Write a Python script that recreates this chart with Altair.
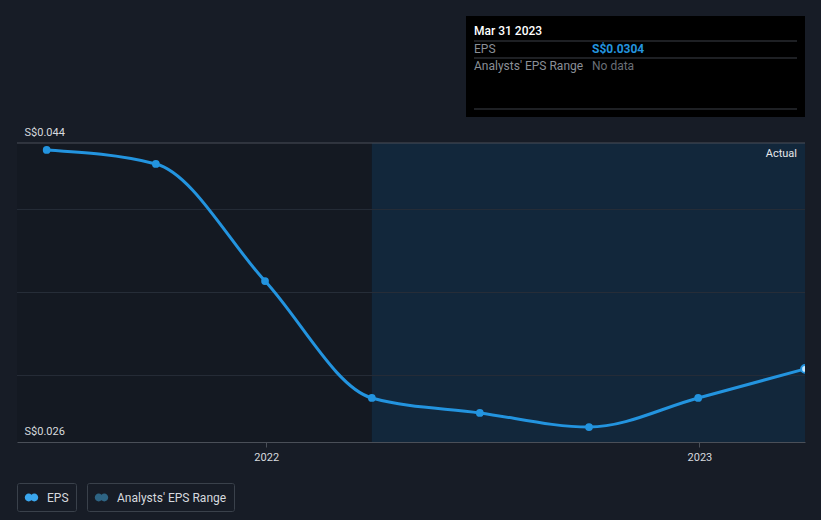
import altair as alt
import pandas as pd

# ---- data ----
dates = ["2021-06-30", "2021-09-30", "2021-12-31", "2022-03-31",
         "2022-06-30", "2022-09-30", "2022-12-31", "2023-03-31"]
eps = [0.04358, 0.04274, 0.03569, 0.02865, 0.02775, 0.02690, 0.02865, 0.0304]
grid_vals = [0.030, 0.035, 0.040]
y_labels = [0.026, 0.044]
x_ticks = [2022, 2023]
x_domain = ["2021-06-05", "2023-03-31"]
region_start = ["2021-06-05", "2022-03-31"]
region_end = ["2022-03-31", "2023-03-31"]
region_name = ["past", "Actual"]
tip_title = "Mar 31 2023"
tip_rows = ["EPS", "Analysts' EPS Range"]
tip_vals = ["S$0.0304", "No data"]

BG = "#171c26"
FONT = "Roboto"
W, H = 788, 299
TWO_DOTS = ("M-0.95,0 a0.55,0.55 0 1,0 1.1,0 a0.55,0.55 0 1,0 -1.1,0 Z "
            "M-0.15,0 a0.55,0.55 0 1,0 1.1,0 a0.55,0.55 0 1,0 -1.1,0 Z")

df = pd.DataFrame({"date": dates, "eps": eps, "series": ["EPS"] * len(eps)})
df["last"] = [False] * (len(eps) - 1) + [True]
reg = pd.DataFrame({"start": region_start, "end": region_end, "name": region_name})
grid = pd.DataFrame({"v": grid_vals})

xscale = alt.Scale(type="utc", domain=x_domain, nice=False)
yscale = alt.Scale(domain=[0.026, 0.044], nice=False, zero=False)

regions = alt.Chart(reg).mark_rect().encode(
    x=alt.X("start:T", scale=xscale, axis=alt.Axis(
        values=[alt.DateTime(year=y, month=1, date=1, utc=True) for y in x_ticks],
        labelExpr="utcFormat(datum.value, '%Y')",
        title=None, grid=False, domain=True, domainColor="#4a4f58",
        tickColor="#4a4f58", tickSize=5, labelColor="#d6d9de",
        labelFont=FONT, labelFontSize=11, labelPadding=4, zindex=1)),
    x2="end:T",
    y=alt.value(0), y2=alt.value(H),
    color=alt.Color("name:N", scale=alt.Scale(domain=region_name,
                                              range=["#141922", "#12273b"]),
                    legend=None),
)

gridlines = alt.Chart(grid).mark_rule(color="#262d38", strokeWidth=1).encode(
    y=alt.Y("v:Q", scale=yscale, axis=alt.Axis(
        values=y_labels, labelExpr="'S$' + format(datum.value, '.3f')",
        title=None, grid=False, domain=False, ticks=False,
        labelAlign="left", labelBaseline="bottom", labelPadding=-7,
        labelOffset=-6, labelColor="#d6d9de", labelFont=FONT,
        labelFontSize=11, labelFlush=False, labelOverlap=False,
        labelBound=False, zindex=1)),
    x=alt.value(0), x2=alt.value(W),
)

topline = alt.Chart(pd.DataFrame({"v": [0.044]})).mark_rule(
    color="#4a4f58", strokeWidth=1).encode(
    y=alt.Y("v:Q", scale=yscale), x=alt.value(0), x2=alt.value(W))

actual_lbl = alt.Chart(pd.DataFrame({"t": ["Actual"]})).mark_text(
    align="right", baseline="middle", color="#e6e8eb", font=FONT, fontSize=11
).encode(text="t:N", x=alt.value(W - 8), y=alt.value(11))

legend_common = dict(orient="none", legendY=340, title=None,
                     strokeColor="#3a414b", fillColor=BG, cornerRadius=2,
                     padding=7, labelColor="#d6d9de", labelFont=FONT,
                     labelFontSize=12, labelOffset=8, symbolType=TWO_DOTS,
                     symbolSize=200, symbolStrokeWidth=0, symbolOpacity=1)

line = alt.Chart(df).mark_line(interpolate="monotone", strokeWidth=3, clip=True).encode(
    x=alt.X("date:T", scale=xscale),
    y=alt.Y("eps:Q", scale=yscale),
    stroke=alt.Stroke("series:N", scale=alt.Scale(domain=["EPS"], range=["#2394df"]),
                      legend=alt.Legend(legendX=0, symbolFillColor="#3aa6ee",
                                        **legend_common)),
)

pts = alt.Chart(df[~df["last"]]).mark_circle(size=60, opacity=1).encode(
    x=alt.X("date:T", scale=xscale), y=alt.Y("eps:Q", scale=yscale),
    color=alt.value("#2394df"))

lastpt = alt.Chart(df[df["last"]]).mark_point(
    size=60, filled=True, fill="#c4e8ff", stroke="#2394df", strokeWidth=2,
    opacity=1, clip=True).encode(
    x=alt.X("date:T", scale=xscale), y=alt.Y("eps:Q", scale=yscale))

rng = alt.Chart(pd.DataFrame({"r": ["Analysts' EPS Range"], "date": [dates[-1]],
                              "eps": [eps[-1]]})).mark_point(
    filled=True, opacity=0, size=1).encode(
    x=alt.X("date:T", scale=xscale), y=alt.Y("eps:Q", scale=yscale),
    fill=alt.Fill("r:N", scale=alt.Scale(domain=["Analysts' EPS Range"],
                                         range=["#2e6484"]),
                  legend=alt.Legend(legendX=70, **legend_common)),
)

# tooltip box
TX, TY = 449, -127
box = alt.Chart(pd.DataFrame({"a": [1]})).mark_rect(color="#000000").encode(
    x=alt.value(TX), x2=alt.value(TX + 339), y=alt.value(TY), y2=alt.value(TY + 101))
seps = alt.Chart(pd.DataFrame({"yy": [TY + 25, TY + 42, TY + 93]})).mark_rule(
    color="#3d4148").encode(
    x=alt.value(TX + 8), x2=alt.value(TX + 331), y=alt.Y("yy:Q", scale=None))
ttl = alt.Chart(pd.DataFrame({"t": [tip_title]})).mark_text(
    align="left", baseline="middle", color="#ffffff", font=FONT, fontSize=12,
    fontWeight=500).encode(text="t:N", x=alt.value(TX + 8), y=alt.value(TY + 15))
rows = alt.Chart(pd.DataFrame({"t": tip_rows, "yy": [TY + 33, TY + 50]})).mark_text(
    align="left", baseline="middle", color="#8a8f97", font=FONT, fontSize=12).encode(
    text="t:N", x=alt.value(TX + 8), y=alt.Y("yy:Q", scale=None))
val1 = alt.Chart(pd.DataFrame({"t": tip_vals[:1], "yy": [TY + 33]})).mark_text(
    align="left", baseline="middle", font=FONT, fontSize=12, fontWeight="bold",
    color="#2394df").encode(
    text="t:N", x=alt.value(TX + 126), y=alt.Y("yy:Q", scale=None))
val2 = alt.Chart(pd.DataFrame({"t": tip_vals[1:], "yy": [TY + 50]})).mark_text(
    align="left", baseline="middle", font=FONT, fontSize=12,
    color="#6a6f77").encode(
    text="t:N", x=alt.value(TX + 126), y=alt.Y("yy:Q", scale=None))

chart = alt.layer(
    regions, gridlines, topline, actual_lbl, line, pts, lastpt, rng,
    box, seps, ttl, rows, val1, val2
).resolve_scale(color="independent").properties(
    width=W, height=H, background=BG,
    autosize=alt.AutoSizeParams(type="none"),
    padding={"left": 17, "top": 143, "right": 16, "bottom": 78},
).configure_view(stroke=None)

chart.save("out.html", embed_options={"renderer": "svg", "actions": False})
